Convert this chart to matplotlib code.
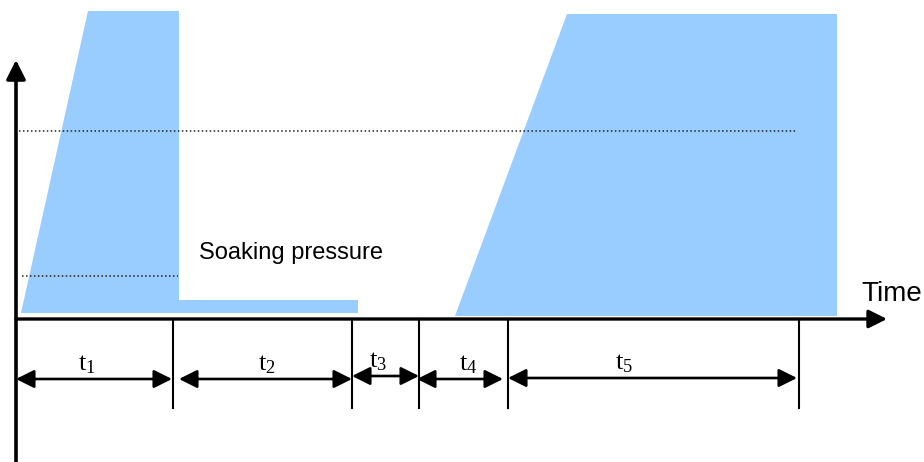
import matplotlib
matplotlib.use("Agg")
import matplotlib.pyplot as plt
from matplotlib.patches import Polygon, FancyArrowPatch

plt.rcParams['mathtext.fontset'] = 'custom'
plt.rcParams['mathtext.rm'] = 'Liberation Serif'
plt.rcParams['mathtext.it'] = 'Liberation Serif'

# ---- data (diagram units: x = time, y = pressure, axis origin at y=0) ----
pressing_x = [21, 88, 179, 179, 358, 358]
pressing_y = [6, 308, 308, 19, 19, 6]
final_x = [455, 567, 837, 837]
final_y = [3, 305, 305, 3]

high_level = 188
high_level_span = [19, 797]
soak_level = 43
soak_level_span = [22, 178]

phase_edges = [16, 173, 352, 419, 508, 799]
phase_labels = [r'$\mathrm{t}_{1}$', r'$\mathrm{t}_{2}$', r'$\mathrm{t}_{3}$',
                r'$\mathrm{t}_{4}$', r'$\mathrm{t}_{5}$']
label_x = [87, 267, 378, 468, 624]
arrow_start = [16, 179, 352, 417, 508]
arrow_end = [172, 352, 419, 503, 797]
arrow_y = [-60, -60, -57, -60, -59]

x_min, x_max = 0, 924
y_min, y_max = -143, 319
axis_x0 = 16
x_axis_end = 887
y_axis_end = 259
tick_bottom = -89

fill_color = '#99CCFF'

fig = plt.figure(figsize=(9.24, 4.62), dpi=100)
ax = fig.add_axes([0, 0, 1, 1])
ax.set_xlim(x_min, x_max)
ax.set_ylim(y_min, y_max)
ax.axis('off')

ax.add_patch(Polygon(list(zip(pressing_x, pressing_y)), closed=True,
                     facecolor=fill_color, edgecolor='none', zorder=1))
ax.add_patch(Polygon(list(zip(final_x, final_y)), closed=True,
                     facecolor=fill_color, edgecolor='none', zorder=1))

# dotted reference levels
ax.plot(high_level_span, [high_level, high_level], color='#222222', lw=1.1,
        dashes=(1, 1.6), zorder=2)
ax.plot(soak_level_span, [soak_level, soak_level], color='#222222', lw=1.1,
        dashes=(1, 1.6), zorder=2)

# axes with arrows
ax.add_patch(FancyArrowPatch((axis_x0, y_min), (axis_x0, y_axis_end),
                             arrowstyle='-|>,head_length=1.15,head_width=0.58',
                             mutation_scale=10, lw=2.6, color='black',
                             shrinkA=0, shrinkB=0, zorder=4))
ax.add_patch(FancyArrowPatch((axis_x0, 0), (x_axis_end, 0),
                             arrowstyle='-|>,head_length=1.1,head_width=0.55',
                             mutation_scale=10, lw=2.4, color='black',
                             shrinkA=0, shrinkB=0, zorder=4))

# phase boundary ticks
for xe in phase_edges[1:]:
    ax.plot([xe, xe], [0, tick_bottom], color='black', lw=1.5, zorder=3)

# duration arrows and labels
for xs, xe, ya, lab, lx in zip(arrow_start, arrow_end, arrow_y, phase_labels, label_x):
    ax.add_patch(FancyArrowPatch((xs, ya), (xe, ya),
                                 arrowstyle='<|-|>,head_length=1.1,head_width=0.55',
                                 mutation_scale=10, lw=1.9, color='black',
                                 shrinkA=0, shrinkB=0, zorder=3))
    ax.text(lx, ya + 9, lab, ha='center', va='baseline', fontsize=19,
            color='black')

ax.text(199, 60, 'Soaking pressure', fontsize=17, family='Liberation Sans',
        ha='left', va='baseline', color='black')
ax.text(861, 18, 'Time', fontsize=20, family='Liberation Sans',
        ha='left', va='baseline', color='black')

fig.savefig('out.png', dpi=100)
